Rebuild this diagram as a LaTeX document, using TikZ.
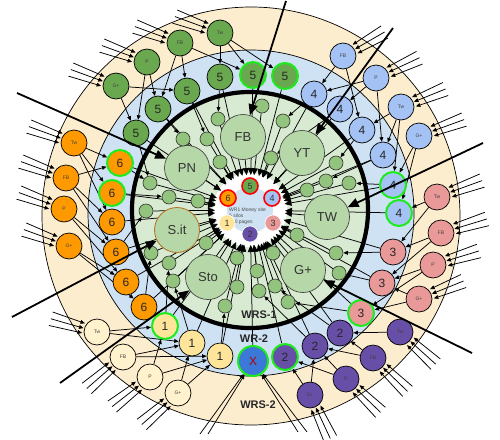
\documentclass[tikz,border=0pt]{standalone}
\usepackage{fontspec}
\setmainfont{Liberation Sans}
\usetikzlibrary{arrows.meta,calc}
\definecolor{beige}{RGB}{253,237,207}
\definecolor{ringblue}{RGB}{207,226,243}
\definecolor{ringgreen}{RGB}{217,234,211}
\definecolor{silog}{RGB}{182,215,168}
\definecolor{smallg}{RGB}{147,196,125}
\definecolor{cfive}{RGB}{106,168,79}
\definecolor{cfour}{RGB}{164,194,244}
\definecolor{cthree}{RGB}{234,153,153}
\definecolor{ctwo}{RGB}{103,78,167}
\definecolor{cone}{RGB}{255,229,153}
\definecolor{conel}{RGB}{255,242,204}
\definecolor{csix}{RGB}{255,153,0}
\definecolor{cx}{RGB}{60,120,216}
\definecolor{hlgreen}{RGB}{30,235,30}
\definecolor{sitbrown}{RGB}{180,110,30}
\pgfdeclarelayer{bg}\pgfdeclarelayer{mid}
\pgfsetlayers{bg,mid,main}
\begin{document}
\begin{tikzpicture}[x=1pt,y=-1pt,
  arr/.style={-{Triangle[length=4.5pt,width=3.8pt]}, line width=0.75pt},
  carr/.style={-{Triangle[length=7pt,width=6pt]}, line width=0.75pt},
  bigarr/.style={-{Triangle[length=11pt,width=9pt]}, line width=1.8pt},
  numnode/.style={circle,draw=black,line width=0.7pt,minimum size=26pt,inner sep=0pt,text=black!85,font=\fontsize{12}{12}\selectfont},
  bnode/.style={circle,draw=black,line width=0.7pt,minimum size=26pt,inner sep=0pt,text=black!75,font=\fontsize{5}{5}\selectfont},
  hl/.style={draw=hlgreen,line width=2pt},
  silo/.style={circle,draw=black!80,line width=0.6pt,fill=silog,minimum size=45pt,inner sep=0pt,text=black!80,font=\fontsize{13}{13}\selectfont},
  pg/.style={circle,draw=black!80,line width=0.6pt,fill=smallg,minimum size=14pt,inner sep=0pt},
  cn/.style={circle,line width=0.6pt,minimum size=16pt,inner sep=0pt,text=black!80,font=\fontsize{9}{9}\selectfont},
  lbl/.style={font=\fontsize{11}{11}\selectfont\bfseries,text=black!85}
]
\useasboundingbox (0,0) rectangle (500,439);
\begin{pgfonlayer}{bg}
  \draw[fill=beige,line width=0.7pt] (251,216) circle[radius=209pt];
  \draw[fill=ringblue,line width=0.7pt] (251,213) circle[radius=163pt];
  \fill[ringgreen] (250,210) circle[radius=118pt];
  \fill[white] (250,210) circle[radius=37pt];
  \draw[line width=4.2pt] (250,210) circle[radius=118pt];
\end{pgfonlayer}

% centre
\node[circle,fill=ringblue,minimum size=46pt,inner sep=0pt] (C) at (250,210) {};
\node[anchor=west,align=left,font=\fontsize{5}{6}\selectfont,text=black!70,inner sep=0pt] (ct) at (229,216) {WR1 Money site\\6 silos\\200 pages};
\node[cn,fill=cfive,draw=red,line width=1.6pt] (h5) at (250,186) {5};
\node[cn,fill=cfour,draw=red,line width=1.6pt] (h4) at (272,198) {4};
\node[cn,fill=cthree,draw=white] (h3) at (273,223) {3};
\node[cn,fill=ctwo,draw=white] (h2) at (250,234) {2};
\node[cn,fill=cone,draw=white] (h1) at (227,223) {1};
\node[cn,fill=csix,draw=red,line width=1.6pt] (h6) at (228,198) {6};

% silos
\node[silo] (FB) at (243,137) {FB};
\node[silo] (YT) at (302,153) {YT};
\node[silo] (TW) at (327,217) {TW};
\node[silo] (GP) at (303,270) {G+};
\node[silo] (Sto) at (208,277) {Sto};
\node[silo,draw=sitbrown,line width=0.8pt] (Sit) at (177,230) {S.it};
\node[silo] (PN) at (187,168) {PN};

% small page circles
\foreach \i/\p in {1/{(218,119)},2/{(183,139)},3/{(207,139)},4/{(220,162)},5/{(150,183)},6/{(169,197)},7/{(198,201)},8/{(146,211)},
  9/{(283,121)},10/{(271,158)},11/{(336,163)},12/{(307,190)},13/{(326,181)},14/{(349,183)},
  15/{(297,235)},16/{(336,253)},17/{(339,273)},18/{(273,253)},19/{(257,271)},20/{(275,286)},21/{(259,291)},22/{(288,302)},
  23/{(151,253)},24/{(169,263)},25/{(173,281)},26/{(206,243)},27/{(237,258)},28/{(237,287)},29/{(225,306)},30/{(262,106)}}
  \node[pg] (s\i) at \p {};

% ring WR-2 numbered nodes
\node[numnode,fill=cfive] (n51) at (136,133) {5};
\node[numnode,fill=cfive] (n52) at (158,109) {5};
\node[numnode,fill=cfive] (n53) at (187,91) {5};
\node[numnode,fill=cfive] (n54) at (220,77) {5};
\node[numnode,fill=cfive,hl] (n55) at (253,75) {5};
\node[numnode,fill=cfive,hl] (n56) at (285,76) {5};
\node[numnode,fill=cfour] (n41) at (314,94) {4};
\node[numnode,fill=cfour] (n42) at (340,109) {4};
\node[numnode,fill=cfour] (n43) at (362,130) {4};
\node[numnode,fill=cfour] (n44) at (383,155) {4};
\node[numnode,fill=cfour,hl] (n45) at (393,185) {4};
\node[numnode,fill=cfour,hl] (n46) at (399,213) {4};
\node[numnode,fill=cthree] (n31) at (393,252) {3};
\node[numnode,fill=cthree] (n32) at (382,283) {3};
\node[numnode,fill=cthree,hl] (n33) at (361,313) {3};
\node[numnode,fill=ctwo] (n21) at (340,333) {2};
\node[numnode,fill=ctwo] (n22) at (315,346) {2};
\node[numnode,fill=ctwo,hl] (n23) at (285,357) {2};
\node[numnode,fill=cx,hl,minimum size=30pt,text=red!70!black] (X) at (253,361) {X};
\node[numnode,fill=cone,hl] (n11) at (165,326) {1};
\node[numnode,fill=cone] (n12) at (192,343) {1};
\node[numnode,fill=cone] (n13) at (220,356) {1};
\node[numnode,fill=csix,hl] (n61) at (120,163) {6};
\node[numnode,fill=csix,hl] (n62) at (112,193) {6};
\node[numnode,fill=csix] (n63) at (112,222) {6};
\node[numnode,fill=csix] (n64) at (116,252) {6};
\node[numnode,fill=csix] (n65) at (126,282) {6};
\node[numnode,fill=csix] (n66) at (144,307) {6};

% outer ring nodes
\node[bnode,fill=cfive] (gG) at (116,86) {G+};
\node[bnode,fill=cfive] (gP) at (147,62) {P};
\node[bnode,fill=cfive] (gFB) at (180,43) {FB};
\node[bnode,fill=cfive] (gTw) at (220,33) {Tw};
\node[bnode,fill=cfour] (bFB) at (343,56) {FB};
\node[bnode,fill=cfour] (bP) at (376,78) {P};
\node[bnode,fill=cfour] (bTw) at (401,107) {Tw};
\node[bnode,fill=cfour] (bG) at (419,136) {G+};
\node[bnode,fill=cthree] (pTw) at (437,197) {Tw};
\node[bnode,fill=cthree] (pFB) at (441,233) {FB};
\node[bnode,fill=cthree] (pP) at (433,265) {P};
\node[bnode,fill=cthree] (pG) at (419,299) {G+};
\node[bnode,fill=ctwo] (uTw) at (400,332) {Tw};
\node[bnode,fill=ctwo] (uFB) at (373,358) {FB};
\node[bnode,fill=ctwo] (uP) at (346,379) {P};
\node[bnode,fill=ctwo] (uG) at (310,395) {G+};
\node[bnode,fill=conel] (yTw) at (97,332) {Tw};
\node[bnode,fill=conel] (yFB) at (123,357) {FB};
\node[bnode,fill=conel] (yP) at (150,377) {P};
\node[bnode,fill=conel] (yG) at (178,393) {G+};
\node[bnode,fill=csix] (oTw) at (74,143) {Tw};
\node[bnode,fill=csix] (oFB) at (66,178) {FB};
\node[bnode,fill=csix] (oP) at (64,209) {P};
\node[bnode,fill=csix] (oG) at (69,246) {G+};

% labels
\node[lbl] (l1) at (259,315) {WRS-1};
\node[lbl] (l2) at (254,339) {WR-2};
\node[lbl] (l3) at (258,405) {WRS-2};

% free ends of the long arrows
\coordinate (e1) at (17,93);
\coordinate (e2) at (286,1);
\coordinate (e3) at (393,28);
\coordinate (e4) at (483,143);
\coordinate (e5) at (472,353);
\coordinate (e6) at (60,383);
\coordinate (e7) at (12,317);
\coordinate (x1) at (200,434);
\coordinate (x2) at (208,434);
\coordinate (x3) at (298,432);
\coordinate (x4) at (307,432);

\begin{pgfonlayer}{mid}
  % to the money site
  \foreach \s in {n51,n52,n53,n54,n55,n56,n41,n42,n43,n44,n45,n46,n31,n32,n33,n21,n22,n23,X,n11,n12,n13,n61,n62,n63,n64,n65,n66,
     FB,YT,TW,GP,Sto,Sit,PN,s1,s2,s3,s4,s5,s6,s7,s8,s9,s10,s11,s12,s13,s14,s15,s16,s17,s18,s19,s20,s21,s22,s23,s24,s25,s26,s27,s28,s29,s30}
    \draw[carr] (\s) -- ($(C)!35pt!(\s)$);
  % WR-2 ring to silo pages
  \foreach \a/\b in {n51/s5,n52/s2,n53/s3,n54/s1,n41/s9,n42/s10,n43/s11,n44/s13,n45/s14,n31/s16,n32/s17,n33/s22,
     n21/s20,n22/s21,n11/s24,n12/s25,n13/s29,n66/s23,n64/s8,n62/s6,n61/s5}
    \draw[arr] (\a) -- (\b);
  % outer ring to WR-2 ring
  \foreach \a/\b in {gG/n51,gG/n53,gP/n52,gP/n51,gFB/n53,gFB/n55,gFB/n52,gTw/n54,gTw/n55,gTw/n56,
     bFB/n41,bFB/n43,bP/n42,bP/n44,bP/n41,bTw/n44,bTw/n45,bTw/n43,bG/n45,bG/n46,
     pTw/n46,pTw/n31,pFB/n31,pFB/n32,pP/n32,pP/n33,pG/n33,pG/n32,
     uTw/n21,uFB/n21,uFB/n22,uP/n22,uP/n23,uG/n23,uG/n22,
     yTw/n11,yTw/n12,yFB/n12,yFB/n13,yP/n11,yP/n13,yG/n13,yG/n12,
     oTw/n61,oTw/n62,oTw/n63,oFB/n61,oFB/n63,oFB/n64,oP/n64,oP/n65,oG/n65,oG/n66}
    \draw[arr] (\a) -- (\b);
  % incoming links to outer ring
  \foreach \n/\a in {gG/200,gP/200,gFB/200,gTw/200,oTw/200,oFB/200,oP/200,oG/200,
     bFB/330,bP/335,bTw/338,bG/340,pTw/340,pFB/343,pP/343,pG/338,
     uTw/42,uFB/44,uP/44,uG/65,yTw/196,yFB/139,yP/142,yG/139}
    \foreach \k in {-1,0,1}
      \draw[arr] ($(\n)+({\a}:48)+({\a+90}:{\k*7})$) -- ($(\n)+({\a}:14)+({\a+90}:{\k*5})$);
  % incoming to X
  \foreach \c in {x1,x2,x3,x4} \draw[arr] (\c) -- (X);
\end{pgfonlayer}
% long thick arrows, drawn over the nodes
\draw[bigarr] (e1) -- (PN);
\draw[bigarr] (e2) -- (FB);
\draw[bigarr] (e3) -- (YT);
\draw[bigarr] (e4) -- (TW);
\draw[bigarr] (e5) -- (GP);
\draw[bigarr] (e6) -- (Sto);
\draw[bigarr] (e7) -- (Sit);
\end{tikzpicture}
\end{document}
